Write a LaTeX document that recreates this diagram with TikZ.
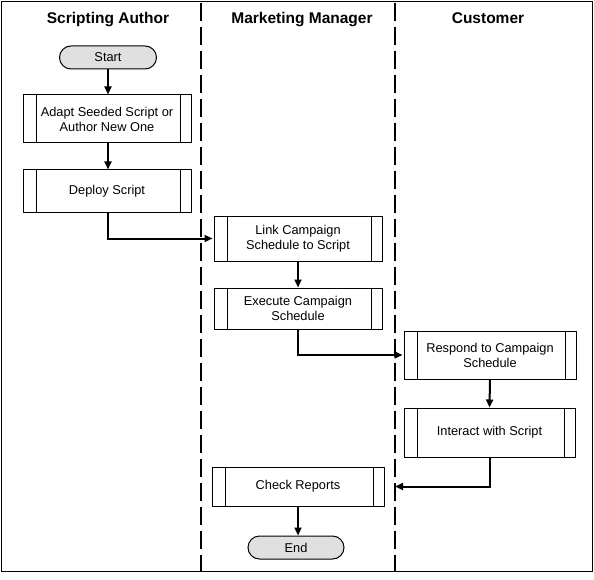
\documentclass[tikz,border=0pt]{standalone}
\usepackage{fontspec}
\setmainfont{Liberation Sans}
\usetikzlibrary{arrows.meta}
\definecolor{pillgray}{RGB}{224,224,224}
\tikzset{
  proc/.style={draw=black, line width=1pt, minimum width=#1, inner sep=0pt, align=center,
    font=\fontsize{12.8}{15}\selectfont,
    path picture={
      \draw[line width=1pt] ([xshift=13pt]path picture bounding box.south west) -- ([xshift=13pt]path picture bounding box.north west);
      \draw[line width=1pt] ([xshift=-11pt]path picture bounding box.south east) -- ([xshift=-11pt]path picture bounding box.north east);
    }},
  pill/.style={draw=black, line width=1pt, fill=pillgray, rounded corners=11.5pt,
    minimum width=#1, minimum height=23pt, inner sep=0pt, font=\fontsize{12.8}{15}\selectfont},
  lanehead/.style={anchor=base, font=\bfseries\fontsize{15.5}{18}\selectfont},
  lanediv/.style={line width=2pt, dash pattern=on 18pt off 6pt},
  arr/.style={line width=2pt, -{Triangle[length=8pt,width=7pt]}},
}
\begin{document}
\begin{tikzpicture}[x=1pt,y=-1pt]
\useasboundingbox (0,0) rectangle (594,580);
\draw[line width=1pt] (1.5,1.5) rectangle (592,571);
\draw[lanediv] (201,3) -- (201,571);
\draw[lanediv] (395,3) -- (395,571);
\node[lanehead] (h1) at (108,23.5) {Scripting Author};
\node[lanehead] (h2) at (302,23.5) {Marketing Manager};
\node[lanehead] (h3) at (488,23.5) {Customer};

\node[pill=97pt] (start) at (108,57.5) {Start};
\node[proc=168pt, minimum height=48pt] (adapt) at (107,119) {Adapt Seeded Script or\\Author New One};
\node[proc=168pt, minimum height=42pt] (deploy) at (107,191) {Deploy Script};
\node[proc=168pt, minimum height=45pt] (link) at (298,238.5) {Link Campaign\\Schedule to Script};
\node[proc=168pt, minimum height=41pt] (exec) at (298,308.5) {Execute Campaign\\Schedule};
\node[proc=172pt, minimum height=48pt] (respond) at (490,355) {Respond to Campaign\\Schedule};
\node[proc=171pt, minimum height=49pt] (interact) at (489.5,432.5) {Interact with Script};
\node[proc=172pt, minimum height=39pt] (check) at (298,486.5) {Check Reports};
\node[pill=96pt] (end) at (296,547.5) {End};
\coordinate (chkin) at (395,486.5);

\draw[arr] (start.south) -- (adapt.north -| start.south);
\draw[arr] (adapt.south -| start.south) -- (deploy.north -| start.south);
\draw[arr] (deploy.south -| start.south) |- ([xshift=-1pt]link.west);
\draw[arr] (link.south) -- (exec.north);
\draw[arr] (exec.south) |- ([xshift=-1pt]respond.west);
\draw[arr] (respond.south) -- (interact.south |- interact.north);
\draw[arr] (interact.south) |- (chkin);
\draw[arr] (check.south) -- (check.south |- end.north);
\end{tikzpicture}
\end{document}
